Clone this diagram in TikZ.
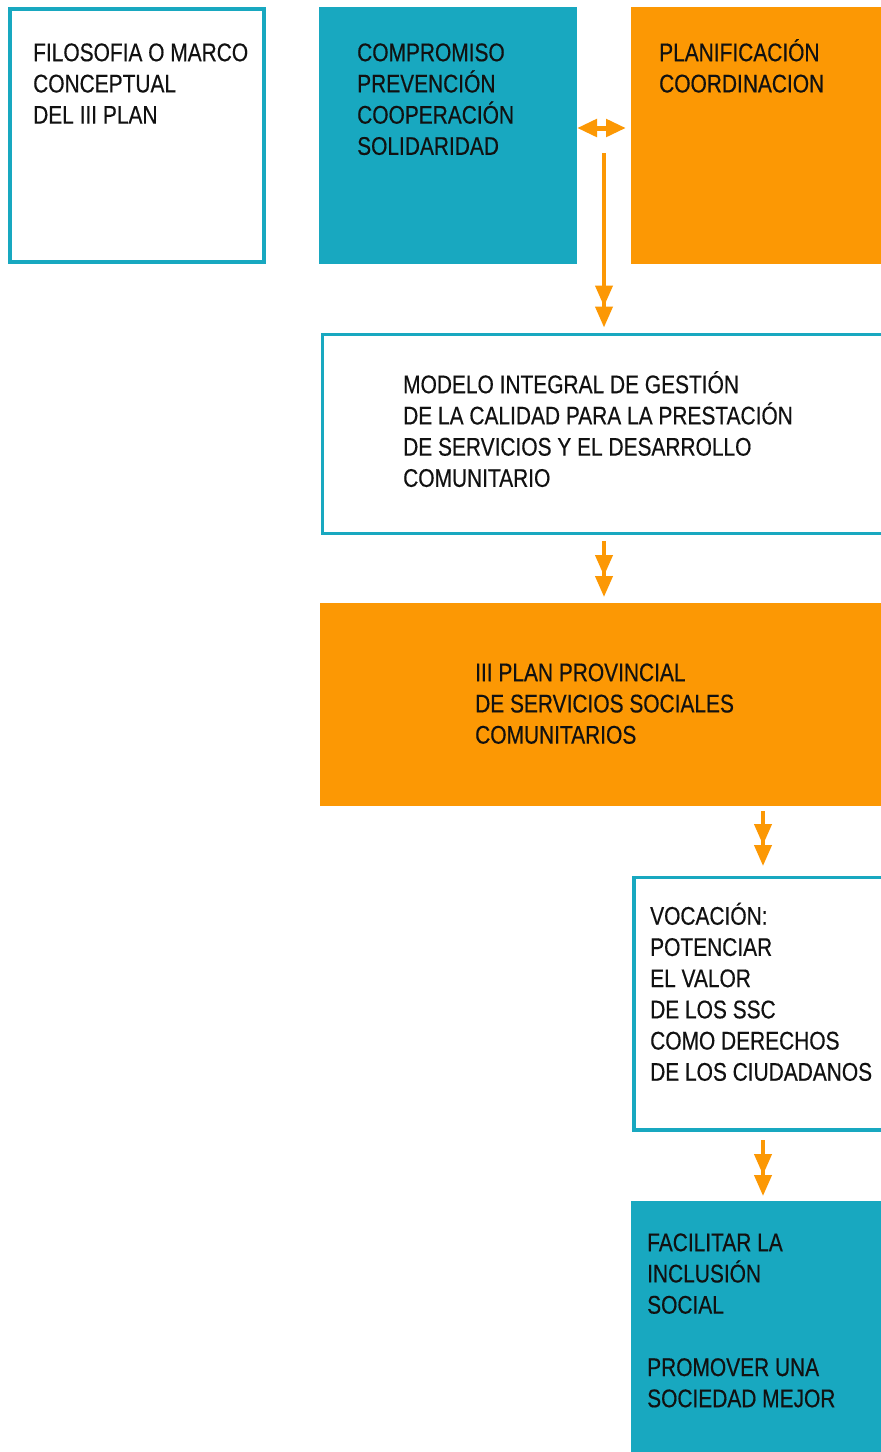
\documentclass[tikz,border=0pt]{standalone}
\usepackage{fontspec}
\setmainfont{Liberation Sans}[FakeStretch=0.82,FakeBold=0.4]
\usetikzlibrary{arrows.meta,calc}
\definecolor{teal1}{RGB}{24,168,192}
\definecolor{orange1}{RGB}{252,152,4}
\definecolor{ink}{RGB}{17,17,17}
\tikzset{
  outbox/.style={draw=teal1, line width=3.5pt, fill=white, rectangle, inner sep=0pt, outer sep=0pt, anchor=north west},
  tealbox/.style={fill=teal1, rectangle, inner sep=0pt, outer sep=0pt, anchor=north west},
  orangebox/.style={fill=orange1, rectangle, inner sep=0pt, outer sep=0pt, anchor=north west},
  txt/.style={anchor=north west, inner sep=0pt, align=left, text=ink, font=\fontsize{25.5}{31.2}\selectfont},
  vtip/.style={-{Triangle[length=21pt,width=17pt]Triangle[length=21pt,width=17pt]}, draw=orange1, line width=4pt},
  dbltip/.style={{Triangle[length=20pt,width=17pt]}-{Triangle[length=20pt,width=17pt]}, draw=orange1, line width=5pt}
}
\begin{document}
\begin{tikzpicture}[x=1pt,y=-1pt]
\useasboundingbox (0,0) rectangle (881,1452);
\fill[white] (0,0) rectangle (881,1452);
\begin{scope}
\clip (0,0) rectangle (881,1452);
% boxes
\node[outbox, minimum width=254pt, minimum height=253pt] (box1) at (10,9) {};
\node[tealbox, minimum width=258pt, minimum height=257pt] (box2) at (319,7) {};
\node[orangebox, minimum width=280pt, minimum height=257pt] (box3) at (631,7) {};
\node[outbox, minimum width=600pt, minimum height=199pt] (box4) at (322.5,334.5) {};
\node[orangebox, minimum width=600pt, minimum height=203pt] (box5) at (320,603) {};
\node[outbox, minimum width=300pt, minimum height=252.5pt] (box6) at (634,877.5) {};
\node[tealbox, minimum width=300pt, minimum height=270pt] (box7) at (631,1201) {};
% texts
\node[txt] (t1) at ($(box1.north west)+(23,26)$) {\rule{0pt}{26pt}FILOSOFIA O MARCO\\CONCEPTUAL\\DEL III PLAN};
\node[txt] (t2) at ($(box2.north west)+(38,28)$) {\rule{0pt}{26pt}COMPROMISO\\PREVENCIÓN\\COOPERACIÓN\\SOLIDARIDAD};
\node[txt] (t3) at ($(box3.north west)+(28,28)$) {\rule{0pt}{26pt}PLANIFICACIÓN\\COORDINACION};
\node[txt] (t4) at ($(box4.north west)+(80.5,32.5)$) {\rule{0pt}{26pt}MODELO INTEGRAL DE GESTIÓN\\DE LA CALIDAD PARA LA PRESTACIÓN\\DE SERVICIOS Y EL DESARROLLO\\COMUNITARIO};
\node[txt] (t5) at ($(box5.north west)+(155,52)$) {\rule{0pt}{26pt}III PLAN PROVINCIAL\\DE SERVICIOS SOCIALES\\COMUNITARIOS};
\node[txt] (t6) at ($(box6.north west)+(16,21)$) {\rule{0pt}{26pt}VOCACIÓN:\\POTENCIAR\\EL VALOR\\DE LOS SSC\\COMO DERECHOS\\DE LOS CIUDADANOS};
\node[txt] (t7) at ($(box7.north west)+(16,24)$) {\rule{0pt}{26pt}FACILITAR LA\\INCLUSIÓN\\SOCIAL\\[31.2pt]PROMOVER UNA\\SOCIEDAD MEJOR};
% connectors
\draw[dbltip] ($(box2.north east)+(0,121)$) -- ($(box3.north west)+(-5,121)$);
\draw[vtip] ($(box2.north east)+(27,146)$) -- ($(box4.north west)+(281.5,-7)$);
\draw[vtip] ($(box4.south west)+(281.5,7.5)$) -- ($(box5.north west)+(284,-6)$);
\draw[vtip] ($(box5.south west)+(443,5)$) -- ($(box6.north west)+(129,-11.5)$);
\draw[vtip] ($(box6.south west)+(129,10)$) -- ($(box7.north west)+(132,-5)$);
\end{scope}
\end{tikzpicture}
\end{document}
